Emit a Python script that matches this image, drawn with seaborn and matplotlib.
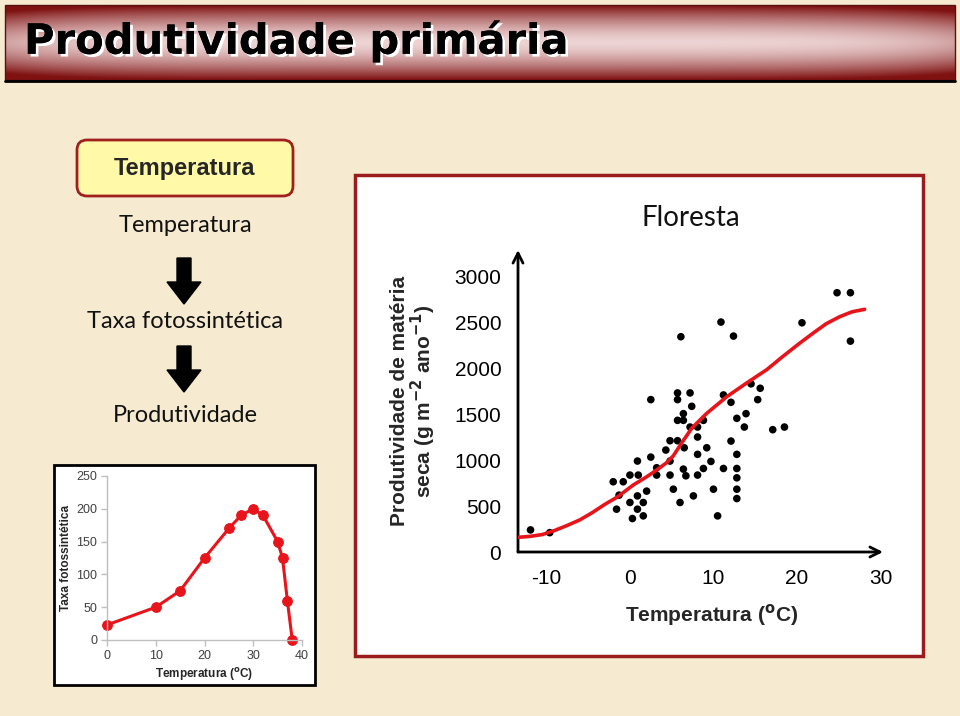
import numpy as np
import pandas as pd
import seaborn as sns
import matplotlib.pyplot as plt
from matplotlib import patches
import matplotlib.patheffects as pe

sns.set_theme(style="white")
plt.rcParams['font.family'] = ['Liberation Sans', 'DejaVu Sans']
plt.rcParams['axes.unicode_minus'] = False

## dados

# grafico pequeno: taxa fotossintetica x temperatura
temp_taxa = [0, 10, 15, 20, 25, 27.5, 30, 32, 35, 36, 37, 38]
taxa = [23, 50, 75, 125, 170, 190, 200, 190, 150, 125, 60, 0]

# floresta: produtividade x temperatura (pontos)
temp_floresta = [-11.9, -9.6, -2.0, -0.8, -1.3, -1.6, 0.0, 0.0, 0.3, 0.9, 1.0, 0.9, 0.9,
                 1.6, 1.6, 2.0, 2.5, 2.5, 3.2, 3.2, 4.3, 4.8, 4.8, 4.8, 5.2, 5.7, 5.7,
                 5.7, 5.7, 6.0, 6.1, 6.4, 6.4, 6.5, 6.4, 6.7, 7.2, 7.4, 7.2, 7.6, 8.1,
                 8.1, 8.1, 8.1, 8.8, 8.8, 9.2, 9.7, 10.0, 10.5, 10.9, 11.2, 11.2, 12.1,
                 12.1, 12.4, 12.8, 12.8, 12.8, 12.8, 12.8, 12.8, 13.7, 13.9, 14.5, 15.3,
                 15.6, 17.1, 18.5, 20.6, 24.8, 26.4, 26.4]
prod_floresta = [241, 211, 766, 766, 620, 467, 839, 540, 365, 992, 839, 612, 467,
                 540, 394, 664, 1662, 1035, 919, 839, 1112, 1214, 992, 839, 685, 1735, 1662,
                 1436, 1214, 540, 2348, 1509, 1436, 1137, 904, 831, 1735, 1589, 1363, 612, 1363,
                 1254, 1065, 839, 1436, 911, 1137, 988, 685, 394, 2508, 1713, 911, 1633,
                 1210, 2355, 1458, 1065, 911, 809, 685, 583, 1363, 1509, 1834, 1662,
                 1786, 1334, 1363, 2500, 2828, 2828, 2300]

# floresta: curva ajustada
curva_temp = [-13.4, -12.0, -10.5, -9.0, -7.5, -6.0, -4.5, -3.0, -1.5, 0.4, 2.0, 3.2,
              4.4, 5.2, 6.2, 7.4, 9.2, 11.6, 14.0, 16.4, 18.2, 20.3, 21.9, 23.5, 25.1,
              26.6, 28.1]
curva_prod = [160, 170, 190, 235, 290, 350, 430, 520, 600, 731, 820, 894,
              975, 1050, 1190, 1350, 1513, 1694, 1845, 1990, 2125, 2276, 2385, 2490, 2566,
              2620, 2647]

vermelho = '#E8141B'
W, H = 960, 716

fig = plt.figure(figsize=(W / 100, H / 100), dpi=100)
fig.patch.set_facecolor('#F6EBD0')


def px_axes(l, t, r, b):
    return fig.add_axes([l / W, 1 - b / H, (r - l) / W, (b - t) / H])


## fundo do slide (coordenadas em pixel)
bg = fig.add_axes([0, 0, 1, 1])
bg.set_xlim(0, W)
bg.set_ylim(H, 0)
bg.axis('off')

# barra do titulo com degrade
yy = np.linspace(-1, 1, 80)[:, None]
xx = np.linspace(-1, 1, 400)[None, :]
k = np.clip(1 - (np.abs(yy) ** 1.6) - 0.25 * np.abs(xx) ** 6, 0, 1)
escuro = np.array([0.50, 0.07, 0.07])
claro = np.array([0.93, 0.83, 0.83])
grad = escuro + (claro - escuro) * k[..., None]
bg.imshow(grad, extent=(5, 955, 80, 5), aspect='auto', zorder=1)
bg.add_patch(patches.Rectangle((5, 5), 950, 75, fill=False, edgecolor='#5a1010', lw=1, zorder=2))
bg.plot([5, 955], [81, 81], color='black', lw=2, zorder=2)
titulo = bg.text(24, 41, 'Produtividade primária', fontsize=30, fontweight='bold', color='black',
                 va='center', ha='left', zorder=4, family=['Liberation Sans Narrow', 'DejaVu Sans'])
titulo.set_path_effects([pe.withSimplePatchShadow(offset=(2, -2), shadow_rgbFace='white', alpha=1),
                         pe.Normal()])

# caixa amarela e fluxo
bg.add_patch(patches.FancyBboxPatch((77, 140), 216, 56, boxstyle='round,pad=0,rounding_size=10',
                                    facecolor='#FFF9A8', edgecolor='#A02020', lw=2, zorder=2))
bg.text(185, 168, 'Temperatura', fontsize=17, fontweight='bold', ha='center', va='center', zorder=3)
for txt, y in [('Temperatura', 226), ('Taxa fotossintética', 322), ('Produtividade', 415)]:
    bg.text(185, y, txt, fontsize=17, ha='center', va='center', family=['Lato', 'DejaVu Sans'],
            color='#111111', zorder=3)
for y0, y1 in [(258, 304), (346, 392)]:
    bg.add_patch(patches.FancyArrow(184, y0, 0, y1 - y0, width=14, head_width=34, head_length=22,
                                    length_includes_head=True, color='black', zorder=3))

# molduras
bg.add_patch(patches.Rectangle((54, 465), 261, 220, facecolor='white', edgecolor='black', lw=2, zorder=2))
bg.add_patch(patches.Rectangle((355, 175), 568, 481, facecolor='white', edgecolor='#9B1C1C', lw=2.5, zorder=2))
bg.text(691, 218, 'Floresta', fontsize=20, ha='center', va='center', family=['Lato', 'DejaVu Sans'],
        color='#111111', zorder=3)

## grafico pequeno
ax1 = px_axes(107, 476, 302, 640)
ax1.patch.set_alpha(0)
df_taxa = pd.DataFrame({'temp': temp_taxa, 'taxa': taxa})
sns.lineplot(data=df_taxa, x='temp', y='taxa', ax=ax1, color=vermelho, lw=2.2, marker='o',
             markersize=7, markeredgecolor=vermelho, clip_on=False)
ax1.set_xlim(0, 40)
ax1.set_ylim(0, 250)
ax1.set_xticks([0, 10, 20, 30, 40])
ax1.set_yticks([0, 50, 100, 150, 200, 250])
for s in ['top', 'right']:
    ax1.spines[s].set_visible(False)
for s in ['left', 'bottom']:
    ax1.spines[s].set_color('#BFBFBF')
    ax1.spines[s].set_linewidth(1)
ax1.tick_params(axis='both', which='major', direction='out', length=4, width=1, color='#BFBFBF',
                labelsize=9, labelcolor='#404040', pad=3, left=True, bottom=True)
ax1.set_xlabel('Temperatura ($^{\\mathbf{o}}$C)', fontsize=8.5, fontweight='bold', color='#262626', labelpad=3)
ax1.set_ylabel('Taxa fotossintética', fontsize=8.5, fontweight='bold', color='#262626', labelpad=3)
ax1.grid(False)

## floresta
ax2 = px_axes(518, 250, 883, 552)
ax2.patch.set_alpha(0)
sns.scatterplot(x=temp_floresta, y=prod_floresta, ax=ax2, color='black', s=30, edgecolor='none', zorder=3)
sns.lineplot(x=curva_temp, y=curva_prod, ax=ax2, color=vermelho, lw=2.6, sort=False, zorder=4)
ax2.set_xlim(-13.4, 30.3)
ax2.set_ylim(0, 3294)
ax2.set_xticks([-10, 0, 10, 20, 30])
ax2.set_yticks([0, 500, 1000, 1500, 2000, 2500, 3000])
for s in ax2.spines.values():
    s.set_visible(False)
ax2.annotate('', xy=(1, 0), xytext=(0, 0), xycoords='axes fraction',
             arrowprops=dict(arrowstyle='->', lw=2, color='black', mutation_scale=18, shrinkA=0, shrinkB=0))
ax2.annotate('', xy=(0, 1), xytext=(0, 0), xycoords='axes fraction',
             arrowprops=dict(arrowstyle='->', lw=2, color='black', mutation_scale=18, shrinkA=0, shrinkB=0))
ax2.tick_params(axis='both', length=0, labelsize=15, labelcolor='black')
ax2.tick_params(axis='y', pad=12)
ax2.tick_params(axis='x', pad=12)
ax2.set_xlabel('Temperatura ($^{\\mathbf{o}}$C)', fontsize=15, fontweight='bold')
ax2.xaxis.set_label_coords(0.53, -0.165)
ax2.set_ylabel('Produtividade de matéria\nseca (g m$^{\\mathbf{-2}}$ ano$^{\\mathbf{-1}}$)', fontsize=15,
               fontweight='bold', labelpad=12, linespacing=1.0)
ax2.grid(False)

fig.savefig('out.png', dpi=100, facecolor=fig.get_facecolor())
